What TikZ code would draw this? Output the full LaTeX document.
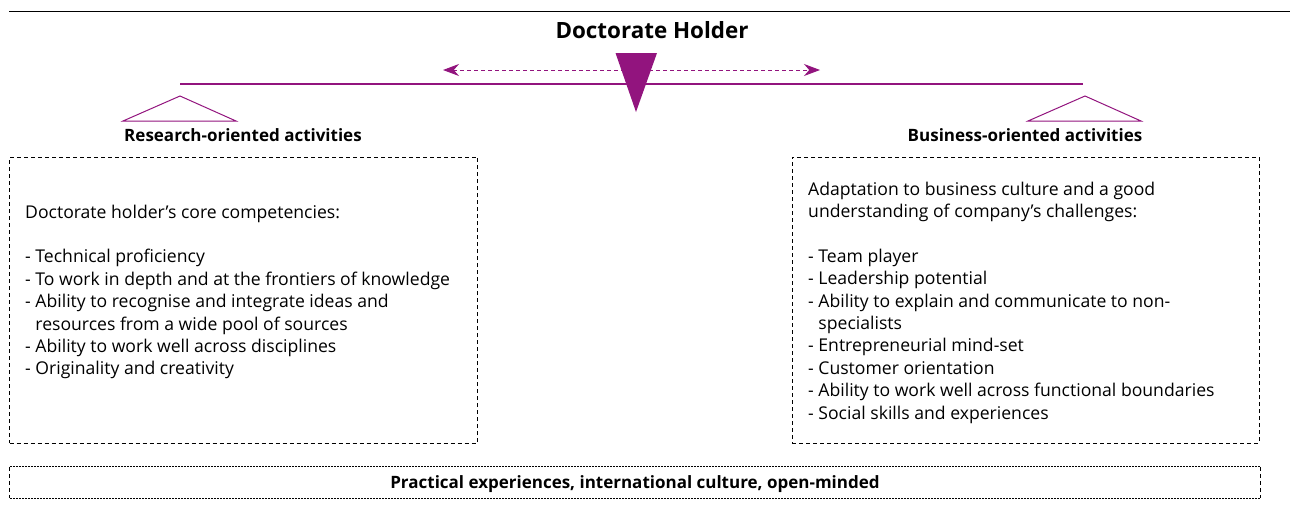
\documentclass[tikz,border=0pt]{standalone}
\usepackage{fontspec}
\setmainfont{Open Sans}
\usetikzlibrary{shapes,positioning,arrows.meta}
\definecolor{plum}{RGB}{146,20,126}

\begin{document}
\begin{tikzpicture}[x=1pt,y=-1pt]
\tikzstyle{every node}=[inner sep=0pt];
\tikzstyle{heading}=[font=\bfseries\fontsize{17}{20}\selectfont];
\tikzstyle{listtext}=[anchor=north west,align=left,font=\fontsize{17.6}{22.4}\selectfont];
\tikzstyle{dashbox}=[draw,line width=0.9pt,dash pattern=on 4pt off 3pt];
\tikzstyle{tip}=[{Stealth[length=16pt,width=12pt]}-{Stealth[length=16pt,width=12pt]}];

  \useasboundingbox (0,0) rectangle (1290,512);
  \draw[line width=1pt] (9,11) -- (1290,11);

  \node[font=\bfseries\fontsize{22.4}{26}\selectfont] (title) at (652,30) {Doctorate Holder};

  % balance beam
  \coordinate (beaml) at (180,84);
  \coordinate (beamr) at (1083,84);
  \coordinate (arrl) at (443,70);
  \coordinate (arrr) at (820,70);
  \draw[plum,line width=2.8pt] (beaml) -- (beamr);
  \draw[plum,line width=1pt,dash pattern=on 4pt off 3pt,tip] (arrl) -- (arrr);
  \fill[plum] (615.5,53) -- (657,53) -- (636,112) -- cycle;
  \foreach \x in {180,1085}
\draw[plum,line width=1pt] (\x-57,121) -- (\x,96) -- (\x+56,121) -- cycle;

  \node[heading] (research) at (243,135.5) {Research-oriented activities};
  \node[heading] (business) at (1025,135.5) {Business-oriented activities};

  \node[dashbox,minimum width=468pt,minimum height=286pt] (rbox) at (243.5,300) {};
  \node[dashbox,minimum width=467pt,minimum height=286pt] (bbox) at (1025.5,300) {};

  \node[listtext] (rlist) at (25,204.5) {Doctorate holder’s core competencies:\\[22.4pt]
- Technical proficiency\\
- To work in depth and at the frontiers of knowledge\\
- Ability to recognise and integrate ideas and\\
\phantom{- }resources from a wide pool of sources\\
- Ability to work well across disciplines\\
- Originality and creativity};

  \node[listtext] (blist) at (808,181.5) {Adaptation to business culture and a good\\
understanding of company’s challenges:\\[22.4pt]
- Team player\\
- Leadership potential\\
- Ability to explain and communicate to non-\\
\phantom{- }specialists\\
- Entrepreneurial mind-set\\
- Customer orientation\\
- Ability to work well across functional boundaries\\
- Social skills and experiences};

  \node[heading,text depth=0pt,minimum width=1250pt,minimum height=31pt] (practice) at (635,482.5) {Practical experiences, international culture, open-minded};
  \draw[line width=0.9pt,dash pattern=on 2pt off 1pt] (practice.north west) -- (practice.north east);
  \draw[line width=0.9pt,dash pattern=on 2pt off 1pt] (practice.south west) -- (practice.south east);
  \draw[line width=0.9pt,dash pattern=on 4pt off 3pt] (practice.north west) -- (practice.south west);
  \draw[line width=0.9pt,dash pattern=on 4pt off 3pt] (practice.north east) -- (practice.south east);

\end{tikzpicture}
\end{document}
